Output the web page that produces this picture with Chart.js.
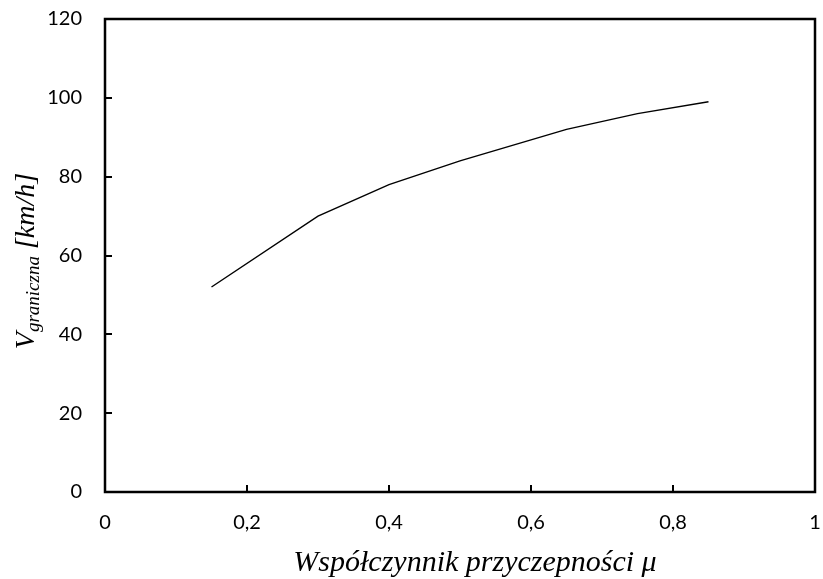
<!DOCTYPE html>
<html>
<head>
<meta charset="utf-8">
<script src="https://cdn.jsdelivr.net/npm/chart.js@4.4.0/dist/chart.umd.min.js"></script>
<style>
  html, body { margin: 0; padding: 0; background: #fff; }
  #wrap { width: 823px; height: 579px; }
</style>
</head>
<body>
<div id="wrap"><canvas id="myChartLine"></canvas></div>
<script>
// friction coefficient vs limit speed
const mu = [0.15, 0.3, 0.4, 0.5, 0.65, 0.75, 0.85];
const vLimit = [52, 70, 78, 84, 92, 96, 99];
const xTicks = [0, 0.2, 0.4, 0.6, 0.8, 1];
const yTicks = [0, 20, 40, 60, 80, 100, 120];

const tickFont = { family: 'Lato', size: 20 };
const xTitleFont = 'italic 30px "Liberation Serif"';
const serifBig = 'italic 28px "Liberation Serif"';
const serifSmall = 'italic 19px "Liberation Serif"';

// frame, inward ticks and the two axis titles
const framePlugin = {
    id: 'frame',
    afterDraw(chart) {
        const ctx = chart.ctx;
        const a = chart.chartArea;
        const xs = chart.scales.x, ys = chart.scales.y;
        ctx.save();
        ctx.strokeStyle = '#000';
        ctx.lineWidth = 2.5;
        ctx.strokeRect(a.left, a.top, a.right - a.left, a.bottom - a.top);
        ctx.lineWidth = 2;
        ctx.beginPath();
        yTicks.forEach(v => {
            const p = Math.round(ys.getPixelForValue(v));
            ctx.moveTo(a.left, p);
            ctx.lineTo(a.left + 7, p);
        });
        xTicks.forEach(v => {
            const p = Math.round(xs.getPixelForValue(v));
            ctx.moveTo(p, a.bottom);
            ctx.lineTo(p, a.bottom - 7);
        });
        ctx.stroke();

        ctx.fillStyle = '#000';
        ctx.textBaseline = 'alphabetic';

        // x title
        ctx.font = xTitleFont;
        ctx.textAlign = 'center';
        ctx.fillText('Współczynnik przyczepności μ', 475, 571);

        // rotated y title with subscript
        ctx.textAlign = 'left';
        ctx.translate(34, 261);
        ctx.rotate(-Math.PI / 2);
        const parts = [['V', serifBig, 0], ['graniczna', serifSmall, 5], [' [km/h]', serifBig, 0]];
        let total = 0;
        parts.forEach(p => { ctx.font = p[1]; total += ctx.measureText(p[0]).width; });
        let x = -total / 2;
        parts.forEach(p => {
            ctx.font = p[1];
            ctx.fillText(p[0], x, p[2]);
            x += ctx.measureText(p[0]).width;
        });
        ctx.restore();
    }
};

const data1 = {
    datasets: [{
        data: mu.map((m, i) => ({ x: m, y: vLimit[i] })),
        borderColor: '#000',
        borderWidth: 1.4,
        pointRadius: 0,
        tension: 0,
        fill: false
    }]
};

const config1 = {
    type: 'line',
    data: data1,
    options: {
        responsive: true,
        maintainAspectRatio: false,
        animation: false,
        layout: { padding: { left: 0, top: 19, right: 8, bottom: 0 } },
        plugins: {
            legend: { display: false },
            tooltip: { enabled: false }
        },
        scales: {
            x: {
                type: 'linear',
                min: 0,
                max: 1,
                afterBuildTicks: s => { s.ticks = xTicks.map(v => ({ value: v })); },
                afterFit: s => { s.height = 87; s.paddingLeft = 0; s.paddingRight = 0; },
                grid: { display: false, drawTicks: false },
                border: { display: false },
                ticks: {
                    color: '#000',
                    font: tickFont,
                    padding: 19,
                    maxRotation: 0,
                    callback: v => String(Math.round(v * 10) / 10).replace('.', ',')
                }
            },
            y: {
                min: 0,
                max: 120,
                afterBuildTicks: s => { s.ticks = yTicks.map(v => ({ value: v })); },
                afterFit: s => { s.width = 105; s.paddingTop = 0; s.paddingBottom = 0; },
                grid: { display: false, drawTicks: false },
                border: { display: false },
                ticks: {
                    color: '#000',
                    font: tickFont,
                    padding: 23
                }
            }
        }
    },
    plugins: [framePlugin]
};

const ctx1 = document.getElementById('myChartLine').getContext('2d');
const myChart1 = new Chart(ctx1, config1);
</script>
</body>
</html>
